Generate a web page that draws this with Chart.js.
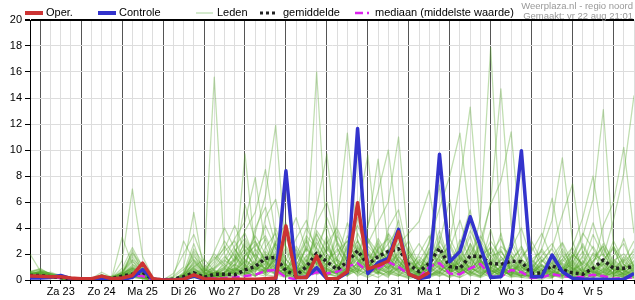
<!DOCTYPE html>
<html>
<head>
<meta charset="utf-8">
<script src="https://cdn.jsdelivr.net/npm/chart.js@4"></script>
<style>
  body { margin: 0; background: #fff; font-family: "Liberation Sans", Arial, sans-serif; }
  #wrap { position: relative; width: 635px; height: 300px; overflow: hidden; }
  .lg { position: absolute; top: 6px; font-size: 11px; line-height: 13px; color: #000; white-space: nowrap; }
  .lg svg { position: absolute; top: 4px; }
  .src { position: absolute; right: 2px; font-size: 9.5px; line-height: 10px; color: #999; white-space: nowrap; }
</style>
</head>
<body>
<div id="wrap">
  <canvas id="c" width="635" height="300"></canvas>
  <div class="lg" style="left:25px"><svg width="18" height="6"><line x1="0" y1="3" x2="18" y2="3" stroke="#cc3333" stroke-width="4"/></svg><span style="margin-left:21px">Oper.</span></div>
  <div class="lg" style="left:98px"><svg width="18" height="6"><line x1="0" y1="3" x2="18" y2="3" stroke="#3333cc" stroke-width="4"/></svg><span style="margin-left:21px">Controle</span></div>
  <div class="lg" style="left:196px"><svg width="17" height="6"><line x1="0" y1="3" x2="17" y2="3" stroke="#a8d49a" stroke-width="1"/></svg><span style="margin-left:21px">Leden</span></div>
  <div class="lg" style="left:260px"><svg width="18" height="6"><line x1="0" y1="3" x2="18" y2="3" stroke="#222" stroke-width="3" stroke-dasharray="3 3"/></svg><span style="margin-left:23px">gemiddelde</span></div>
  <div class="lg" style="left:355px"><svg width="18" height="6"><line x1="0" y1="3" x2="18" y2="3" stroke="#dd22ee" stroke-width="2.5" stroke-dasharray="8 4 2 4"/></svg><span style="margin-left:20px">mediaan (middelste waarde)</span></div>
  <div class="src" style="top:1px">Weerplaza.nl - regio noord</div>
  <div class="src" style="top:11px">Gemaakt: vr 22 aug 21:01</div>
</div>
<script>
// 6-uurs stappen vanaf vr 22 aug 18:00, dagnamen staan op 12:00
const dagen = ['Za 23', 'Zo 24', 'Ma 25', 'Di 26', 'Wo 27', 'Do 28', 'Vr 29', 'Za 30', 'Zo 31', 'Ma 1', 'Di 2', 'Wo 3', 'Do 4', 'Vr 5']
const stappen = Array.from({ length: 60 }, (_, i) => i)

const oper = [0.3, 0.28, 0.25, 0.25, 0.15, 0.1, 0.1, 0.3, 0.1, 0.15,
  0.35, 1.3, 0.1, 0, 0, 0.05, 0.4, 0.1, 0.05, 0.05,
  0.05, 0.05, 0.05, 0.1, 0.15, 4.15, 0.2, 0.2, 1.85, 0.1,
  0.1, 0.65, 5.95, 0.85, 1.1, 1.46, 3.7, 0.45, 0.13, 0.6]

const controle = [0.15, 0.15, 0.2, 0.35, 0.1, 0.05, 0.05, 0.15, 0.05, 0.05,
  0.2, 0.8, 0.05, 0, 0, 0.05, 0.3, 0.05, 0.02, 0.02,
  0.02, 0.02, 0.02, 0.02, 0.05, 8.4, 0.2, 0.2, 0.95, 0.1,
  0.1, 0.55, 11.65, 0.5, 1.33, 1.67, 3.9, 0.45, 0.1, 0.25,
  9.67, 1.4, 2.2, 4.87, 2.56, 0.2, 0.25, 2.56, 9.95, 0.25,
  0.25, 1.92, 0.64, 0.13, 0.05, 0.05, 0.05, 0.02, 0.05, 0.5]

const gemiddelde = [0.35, 0.35, 0.25, 0.2, 0.08, 0.05, 0.05, 0.2, 0.1, 0.3,
  0.45, 0.6, 0.05, 0.02, 0.05, 0.25, 0.56, 0.2, 0.45, 0.45,
  0.4, 0.77, 1.03, 1.67, 1.75, 0.7, 0.35, 1.03, 2.05, 1.4,
  0.8, 1.4, 2.25, 1.2, 1.8, 2.2, 2.4, 1.2, 0.64, 1.28,
  2.44, 1.03, 0.9, 1.85, 1.8, 1.28, 1.2, 1.45, 1.4, 0.5,
  0.55, 1.1, 0.77, 0.55, 0.45, 0.9, 1.54, 0.9, 0.9, 1.05]

const mediaan = [0.3, 0.3, 0.2, 0.15, 0.05, 0, 0, 0.15, 0.05, 0.1,
  0.3, 0.3, 0, 0, 0, 0.1, 0.3, 0.1, 0.13, 0.15,
  0.2, 0.3, 0.4, 0.7, 0.77, 0.2, 0.05, 0.3, 0.6, 0.5,
  0.64, 1.03, 1.3, 0.64, 0.9, 1.4, 1.0, 0.45, 0.15, 1.03,
  1.3, 0.5, 0.45, 0.9, 1.23, 0.3, 0.25, 0.77, 0.6, 0.15,
  0.2, 0.45, 0.3, 0.2, 0.25, 0.4, 0.3, 0.1, 0.15, 0.2]

const leden = [
  [0.6,0.9,0.4,0.3,0.2,0.1,0,0.3,0.1,0.4, 1.2,0.8,0,0,0,0.2,0.8,0.3,0.5,1.2, 2.0,0.8,1.5,3.2,1.0,0.3,0.1,0.8,2.6,4.2, 1.4,0.6,3.1,1.2,0.5,2.2,4.6,1.0,0.2,0.9, 3.4,1.1,0.5,2.1,1.6,0.2,0.6,1.9,0.8,0.2, 0,0.6,1.3,0.9,0.3,0,1.6,2.4,0.7,0.5],
  [0.3,0.5,0.2,0.1,0,0,0.1,0.6,0.2,1.5, 7.0,1.8,0.2,0,0.3,1.0,5.2,0.6,0.2,0.4, 0.9,9.7,2.1,0.6,1.8,0.4,0.2,1.5,0.6,1.0, 3.8,1.2,0.3,0.8,2.4,1.0,0.4,0.1,0.3,2.5, 1.0,0.4,1.8,0.6,0.2,1.2,3.6,0.5,0.2,0.1, 0.3,1.4,0.6,0.2,0,0.4,0.2,1.0,3.2,0.8],
  [0.4,0.6,0.3,0.2,0.1,0,0,0.2,0,0.3, 2.3,0.6,0,0,0.5,2.0,3.5,1.4,15.6,2.0, 0.5,1.2,0.3,0.8,2.5,0.6,0.1,0.4,1.8,0.7, 0.5,2.8,1.6,0.4,1.0,3.5,1.2,0.3,0.1,0.6, 1.8,2.6,0.9,0.4,1.1,3.9,1.0,0.3,0.6,0.1, 0.2,0.1,2.2,1.0,0.4,0.8,0.3,0.1,0.5,1.2],
  [2.0,0.7,0.4,0.2,0,0,0.1,0.4,0.1,0.2, 0.6,0.3,0,0,0,0.4,0.9,0.2,0.3,0.6, 1.5,2.4,0.8,1.2,4.0,1.6,0.5,2.8,16.0,3.0, 0.8,0.3,1.4,2.0,0.6,0.2,1.8,0.9,0.4,1.3, 0.6,0.2,2.8,5.4,1.2,0.4,0.8,0.3,1.5,0.6, 1.1,0.4,0.1,0.6,1.8,0.5,0.2,0.9,0.4,0.3],
  [0.3,0.4,0.6,0.3,0.1,0,0,0.1,0.2,0.5, 0.9,0.4,0,0,0,0.2,0.4,0.1,0.4,0.9, 0.4,1.0,3.6,6.5,11.9,2.2,0.6,0.8,1.6,0.5, 0.2,1.0,0.6,3.2,1.5,0.8,0.4,2.2,0.6,0.3, 0.8,1.6,0.4,1.2,4.8,17.9,3.2,0.6,0.3,0.9, 0.4,0.2,0.8,0.3,0.1,1.4,2.6,0.7,0.2,0.1],
  [0.5,0.3,0.2,0.4,0.2,0,0,0.3,0.2,3.3, 1.2,0.6,0.1,0,0,0.6,2.8,0.5,0.2,0.3, 0.6,0.4,1.3,0.9,0.5,2.6,1.2,0.4,0.9,2.2, 4.2,11.3,3.0,1.1,0.4,0.9,2.0,0.6,0.2,0.7, 1.5,0.5,0.2,0.9,0.6,1.4,0.5,2.8,1.0,0.4, 0.8,0.3,0.5,1.6,3.4,6.2,13.1,2.5,0.6,0.4],
  [0.2,0.3,0.1,0.1,0,0,0,0.1,0,0.2, 0.5,0.3,0,0,0,0.1,0.3,0.8,0.4,0.2, 0.3,0.9,2.0,1.1,0.4,0.6,2.4,1.0,0.4,0.8, 1.6,0.7,2.4,0.5,1.9,0.6,0.3,1.2,0.8,2.0, 0.9,3.0,7.5,13.3,4.0,1.2,0.4,0.9,0.2,0.5, 1.6,0.6,0.2,0.4,0.8,0.3,1.2,0.5,0.9,2.0],
  [0.4,0.5,0.3,0.2,0.1,0.1,0,0.2,0.1,0.6, 1.5,0.5,0,0,0.2,0.8,1.6,0.9,0.3,0.6, 1.2,3.0,1.6,0.5,0.9,0.3,0.8,1.9,0.7,0.3, 0.9,2.1,4.8,1.5,0.6,1.3,0.5,0.2,0.6,1.8, 2.6,0.8,0.3,1.5,2.4,6.0,14.7,4.2,1.0,0.3, 0.2,0.5,1.0,0.4,0.2,0.6,0.3,1.5,0.8,0.2],
  [0.3,0.6,0.5,0.3,0.1,0,0,0.2,0.1,0.3, 0.8,0.4,0,0,0,0.3,0.6,0.2,0.6,0.3, 0.8,0.5,0.9,2.2,1.4,0.6,0.3,0.7,3.2,1.5, 0.6,1.4,2.0,4.2,6.8,10.0,3.6,1.0,0.4,0.5, 1.2,0.6,1.0,0.3,0.8,0.5,1.8,0.9,0.3,0.6, 2.4,4.6,9.4,3.0,0.8,0.3,0.6,0.2,1.0,0.5],
  [0.6,0.8,0.5,0.2,0.1,0,0,0.4,0.1,0.2, 0.4,0.2,0,0,0,0.2,0.5,0.1,0.2,0.5, 1.8,0.6,0.4,1.0,2.8,0.9,0.4,0.2,1.2,0.5, 0.3,0.8,1.2,0.6,3.0,1.2,0.8,2.6,0.9,0.4, 0.6,1.5,0.7,2.4,0.9,0.3,1.1,0.5,2.2,0.8, 0.3,0.9,0.4,2.0,1.2,3.5,1.8,4.6,8.2,14.2],
  [0.2,0.4,0.3,0.1,0,0,0.1,0.2,0,0.4, 1.0,0.6,0.1,0,0,0.5,2.0,0.4,0.9,1.6, 3.2,4.5,7.9,2.6,0.8,0.3,1.0,0.5,2.0,0.9, 0.4,0.6,1.0,2.8,4.4,6.0,11.0,2.4,0.6,0.3, 0.5,0.2,0.6,1.1,0.4,0.8,0.3,1.2,0.6,0.2, 0.5,0.2,0.9,0.6,1.5,0.7,0.3,0.6,1.8,0.9],
  [0.5,0.4,0.2,0.3,0.1,0,0,0.1,0.3,0.5, 2.0,0.9,0,0,0.1,0.4,1.0,0.3,0.2,0.4, 0.6,1.6,0.9,0.4,1.5,0.7,0.2,1.1,0.5,1.8, 0.7,2.4,5.2,9.6,2.0,0.8,1.4,0.5,0.3,1.0, 0.4,0.9,2.0,0.8,3.0,5.8,7.6,11.4,2.6,0.5, 0.2,0.8,0.3,1.0,0.4,0.2,0.9,0.4,0.2,0.6],
  [0.3,0.2,0.1,0.2,0,0,0,0.1,0,0.1, 0.3,0.1,0,0,0,0.1,0.2,0.3,1.2,2.6, 1.4,3.8,5.2,8.5,3.4,0.9,0.5,1.6,0.8,0.4, 1.2,0.5,1.8,4.0,9.3,2.6,0.9,0.4,1.6,0.8, 0.3,1.0,0.5,1.8,0.6,0.2,0.7,0.4,1.6,0.9, 0.4,1.2,2.8,0.6,0.3,1.0,4.2,6.0,10.2,3.6],
  [0.4,0.6,0.3,0.2,0.1,0,0,0.3,0.1,0.3, 0.6,0.3,0,0,0,0.3,1.4,0.6,0.4,0.2, 0.5,1.1,0.6,1.9,0.8,3.0,4.8,2.2,5.6,9.7, 2.5,0.9,0.4,1.5,0.7,2.0,0.6,0.3,0.5,3.0, 5.5,8.0,11.3,4.4,1.3,0.6,1.0,0.3,0.5,1.2, 0.6,0.3,0.8,1.9,0.5,0.2,0.6,1.3,0.4,0.8],
  [0.6,0.5,0.4,0.2,0,0,0,0.2,0.1,0.2, 0.5,0.2,0,0,0,0.2,0.7,0.2,0.1,0.4, 0.8,2.0,1.2,0.6,2.2,1.0,0.5,0.9,1.4,0.6, 1.0,0.4,2.6,1.0,0.5,1.6,2.8,3.6,4.5,6.9, 2.2,0.8,0.4,0.9,1.6,0.5,0.2,0.8,0.4,0.3, 1.4,2.5,5.0,7.4,2.0,0.6,0.3,0.9,0.5,0.2],
  [0.3,0.4,0.2,0.1,0,0,0,0.2,0,0.2, 0.4,0.2,0,0,0,0.2,0.3,0.4,0.8,0.3, 0.6,0.3,1.0,0.7,1.6,0.5,0.9,3.2,1.2,0.5, 0.8,1.8,0.6,0.3,0.9,0.5,1.2,0.6,1.4,2.8, 7.3,2.0,0.6,1.4,0.5,1.0,2.4,0.6,0.3,0.8, 3.2,6.3,2.0,0.5,0.2,0.7,0.4,0.2,0.6,1.1],
  [0.5,0.3,0.2,0.3,0.1,0,0,0.3,0.2,0.4, 0.7,0.3,0,0,0,0.1,0.4,0.2,0.3,0.6, 1.0,0.4,0.8,1.3,0.6,1.2,0.3,0.6,2.0,1.1, 0.5,0.9,1.6,0.7,1.2,0.4,1.8,0.8,0.3,1.1, 2.9,6.2,1.5,0.6,2.0,0.8,0.3,1.4,0.6,0.2, 0.4,1.1,0.6,2.6,4.8,8.0,3.0,1.2,0.4,0.7],
  [0.2,0.3,0.2,0.1,0,0,0,0.1,0,0.1, 0.2,0.1,0,0,0,0,0.2,0.1,0.2,0.3, 0.4,0.8,0.5,0.3,1.0,0.4,0.2,0.5,1.0,0.3, 0.6,0.3,0.9,0.5,0.2,0.7,0.4,0.2,0.6,0.3, 0.9,0.4,0.2,0.6,0.3,0.9,0.5,0.2,0.4,0.1, 0.3,0.2,0.5,0.3,0.1,0.4,0.2,0.6,0.3,0.2],
  [0.4,0.7,0.5,0.3,0.1,0,0.1,0.4,0.2,0.4, 0.9,0.5,0,0,0,0.3,1.1,0.5,0.3,0.8, 2.4,1.0,0.4,0.6,1.2,0.5,1.8,4.0,2.5,1.3, 2.8,1.5,0.8,0.4,1.3,0.9,2.2,1.1,0.5,0.8, 1.6,0.7,1.3,0.5,1.0,2.2,0.8,0.4,1.2,0.6, 0.9,0.4,1.6,0.8,0.3,1.1,0.6,0.3,1.4,2.2],
  [0.3,0.4,0.3,0.2,0,0,0,0.2,0.1,0.3, 0.5,0.3,0,0,0,0.2,0.4,0.2,0.6,0.4, 0.7,1.4,2.8,1.5,0.6,0.8,0.4,1.2,3.5,2.0, 1.1,3.4,2.2,0.8,2.6,1.4,0.6,1.5,0.9,0.4, 0.7,1.2,0.5,2.8,1.0,0.4,1.6,0.7,0.3,0.9, 0.5,0.8,0.3,1.2,0.6,2.0,0.9,0.5,0.2,0.6],
  [0.5,0.6,0.4,0.2,0.1,0,0,0.2,0.1,0.6, 1.8,0.7,0,0,0.2,3.0,1.5,0.8,1.6,2.4, 4.2,2.2,1.0,0.5,2.0,0.6,0.8,0.4,1.6,0.8, 0.5,1.2,3.6,2.0,1.0,2.4,1.5,0.6,0.2,1.5, 3.8,1.4,0.6,1.0,0.4,1.5,0.6,1.8,0.5,0.2, 0.6,1.5,0.8,0.4,0.9,0.3,1.6,0.8,0.3,0.5],
  [0.3,0.5,0.2,0.1,0,0,0,0.2,0,0.2, 0.6,0.4,0,0,0,0.1,0.3,0.6,0.2,0.4, 0.6,0.2,0.9,0.4,0.3,1.0,0.6,0.3,0.8,2.6, 1.0,0.4,0.7,1.6,0.6,0.3,0.9,2.0,0.7,0.2, 0.5,1.0,2.6,0.7,0.3,1.0,0.4,0.6,1.4,0.5, 1.2,0.4,0.2,0.7,0.3,0.8,1.2,0.4,0.2,0.4],
  [0.7,0.8,0.5,0.4,0.2,0.1,0,0.3,0.2,0.9, 2.5,1.0,0.1,0,0,0.4,2.4,1.2,0.5,1.0, 1.6,5.8,3.0,1.4,0.8,0.5,1.4,0.7,4.4,6.0, 3.0,1.6,0.6,2.2,1.0,4.0,5.4,1.8,0.5,1.2, 2.0,0.7,1.4,3.4,0.9,2.6,1.2,0.4,0.9,1.6, 0.8,0.3,1.0,0.5,1.4,0.6,2.4,1.0,0.4,1.0],
  [0.2,0.3,0.2,0.1,0,0,0,0.1,0,0.1, 0.3,0.1,0,0,0,0.1,0.2,0.1,0.3,0.5, 0.9,0.6,0.3,0.8,0.4,0.2,0.6,0.3,1.0,0.5, 0.3,0.8,0.5,0.2,0.6,0.4,0.9,0.4,0.2,0.5, 0.3,0.6,0.9,0.4,0.2,0.5,0.8,0.3,0.2,0.4, 0.2,0.6,0.4,0.2,0.5,0.3,0.7,0.3,0.5,0.2],
  [0.4,0.5,0.3,0.2,0,0,0.1,0.3,0.1,0.3, 0.8,0.4,0,0,0,0.2,0.9,0.4,0.8,1.5, 1.0,2.6,1.8,4.2,2.4,1.0,0.6,2.6,1.4,3.4, 1.6,0.8,2.0,1.2,3.2,1.8,0.8,0.5,1.0,0.6, 1.4,0.5,1.9,0.8,2.8,1.4,0.6,1.0,0.4,0.7, 1.2,0.5,0.3,1.0,2.2,0.9,0.5,1.4,0.6,1.8],
  [0.4,0.5,0.3,0.2,0.1,0,0,0.2,0.1,0.3, 0.6,0.4,0,0,0,0.3,0.8,0.5,1.0,2.2, 3.0,1.4,0.8,2.5,3.6,1.2,0.5,1.8,2.9,1.6, 2.2,3.0,1.4,0.7,2.4,3.2,1.5,0.6,1.2,2.1, 1.5,2.8,1.2,0.6,1.8,2.5,1.0,0.5,1.8,2.6, 1.0,0.6,1.4,2.2,0.8,1.5,2.0,0.9,1.6,0.7],
  [0.2,0.4,0.3,0.1,0,0,0,0.1,0,0.2, 0.4,0.2,0,0,0,0.1,0.5,0.9,2.0,1.2, 0.6,1.8,3.4,2.0,1.0,3.8,2.2,0.8,1.5,3.1, 0.9,1.8,2.7,1.3,0.6,1.9,3.4,1.2,0.4,1.6, 2.3,1.0,3.1,1.7,0.8,1.2,2.6,1.9,0.7,1.3, 2.4,1.2,0.5,1.4,2.6,1.1,0.6,1.9,2.8,1.0],
  [0.5,0.6,0.4,0.3,0.1,0,0,0.3,0.1,0.5, 1.4,0.8,0.1,0,0,0.4,1.8,1.0,0.4,1.4, 2.6,3.6,1.6,0.9,2.8,1.5,3.2,4.6,2.0,1.1, 3.4,2.0,1.0,2.6,1.7,0.9,2.8,1.4,0.8,2.2, 1.2,0.6,1.6,3.8,2.2,1.0,0.5,1.4,2.6,1.1, 0.5,1.8,2.9,1.3,0.6,2.1,1.4,0.5,1.0,2.4],
  [0.3,0.3,0.2,0.2,0,0,0,0.2,0,0.2, 0.5,0.3,0,0,0,0.2,0.6,0.3,0.7,0.5, 1.2,0.7,2.4,1.4,0.5,0.9,1.6,3.0,1.2,2.4, 1.4,0.6,1.3,3.2,2.1,1.0,1.6,0.7,1.4,0.9, 0.5,1.9,1.0,0.4,1.4,3.0,1.8,0.8,1.1,0.4, 0.8,2.0,1.1,0.5,1.0,0.6,1.5,2.6,1.2,0.6],
  [0.6,0.7,0.4,0.2,0.1,0,0,0.3,0.2,0.7, 2.1,1.1,0.1,0,0,0.5,1.2,0.6,1.4,3.0, 1.8,1.0,4.0,5.6,2.6,1.2,0.6,1.3,3.8,2.6, 1.5,4.4,2.2,1.0,1.8,2.8,4.0,2.0,0.8,1.4, 3.0,1.6,0.8,2.0,3.4,1.8,0.9,2.4,4.0,1.5, 0.7,1.3,0.6,1.8,3.6,2.4,1.0,0.6,1.5,3.0],
  [0.3,0.4,0.2,0.1,0,0,0,0.1,0,0.1, 0.3,0.2,0,0,0,0.1,0.4,0.2,0.3,0.9, 0.5,1.5,1.0,0.6,1.8,0.8,2.0,1.1,0.6,1.3, 2.4,1.1,0.6,1.2,0.8,1.6,1.0,2.2,1.2,0.6, 1.1,0.8,1.7,1.0,0.5,0.9,1.5,2.2,1.0,0.6, 1.5,0.8,1.9,0.9,0.4,1.0,0.7,1.6,0.9,1.4],
  [0.4,0.6,0.4,0.2,0.1,0,0,0.2,0.1,0.4, 0.9,0.6,0,0,0,0.2,1.0,1.6,0.7,0.4, 1.6,2.8,1.2,4.8,6.2,2.4,1.0,0.5,2.2,1.4, 0.7,2.6,4.2,2.4,1.1,0.6,2.4,1.6,2.8,1.5, 0.8,2.4,4.6,2.0,0.9,1.6,1.0,3.0,1.6,0.8, 1.9,2.8,1.2,0.7,1.9,4.4,2.0,0.8,0.5,1.3],
  [0.2,0.3,0.3,0.2,0,0,0,0.2,0,0.3, 0.7,0.3,0,0,0,0.3,0.5,0.2,0.4,0.8, 0.4,0.9,0.6,1.5,0.9,0.4,1.2,2.4,1.6,0.7, 1.2,0.5,0.9,2.0,1.3,0.6,1.0,0.6,0.3,0.9, 1.8,1.2,0.5,0.9,1.5,0.7,0.4,1.1,0.6,1.3, 0.6,0.3,0.9,1.5,0.7,0.5,1.3,0.8,0.3,0.9],
  [0.5,0.4,0.3,0.3,0.1,0,0,0.4,0.2,0.5, 1.0,0.5,0,0,0,0.2,0.7,0.3,2.2,4.0, 2.4,1.2,0.7,1.6,2.9,4.4,1.8,0.9,1.7,4.8, 2.9,1.3,2.5,1.4,0.8,1.9,1.2,0.6,2.0,3.4, 1.6,0.8,1.4,2.6,1.2,2.0,3.2,1.3,0.8,2.2, 3.6,1.6,0.7,1.2,2.8,1.2,0.8,2.6,1.2,0.6],
  [0.3,0.5,0.2,0.1,0,0,0,0.1,0,0.2, 0.4,0.2,0,0,0,0.1,0.3,0.2,0.5,0.3, 0.8,0.5,1.4,0.8,1.6,0.7,0.4,0.9,1.9,0.9, 0.5,1.5,0.8,0.4,1.0,2.2,1.4,0.7,0.4,1.0, 0.6,1.3,0.8,1.6,0.7,0.4,1.0,0.6,1.3,0.5, 0.3,1.0,0.6,1.4,0.6,0.9,0.4,1.1,0.7,0.3],
  [0.4,0.7,0.5,0.2,0.1,0,0,0.3,0.1,0.3, 0.8,0.5,0,0,0,0.3,1.3,0.7,0.9,1.8, 1.1,2.2,3.0,1.4,2.0,1.1,2.6,1.4,3.6,2.0, 1.0,1.9,3.0,1.5,2.8,1.3,2.0,3.0,1.2,0.7, 1.9,3.2,1.6,0.9,2.3,1.2,0.7,1.6,2.4,1.0, 1.8,0.8,1.6,2.5,1.0,1.7,2.6,1.1,0.7,1.5],
  [0.3,0.4,0.3,0.2,0,0,0,0.2,0.1,0.4, 1.1,0.6,0,0,0,0.2,0.6,0.4,0.3,0.6, 0.9,0.4,1.1,2.0,1.3,0.6,0.9,0.5,1.3,0.8, 0.4,1.0,1.8,0.8,0.5,1.1,0.7,0.3,0.8,1.5, 0.9,0.5,1.1,0.6,1.4,0.8,0.3,0.7,1.0,0.5, 1.1,0.6,0.3,0.8,1.2,0.5,0.8,0.4,1.2,0.7],
  [0.6,0.5,0.4,0.2,0.1,0,0,0.3,0.2,0.6, 1.6,0.9,0.1,0,0,0.4,2.2,0.8,0.5,1.0, 2.2,3.2,1.8,0.8,3.0,1.6,0.8,2.4,1.2,2.8, 4.0,2.2,1.2,3.0,1.6,3.6,2.4,1.0,1.8,1.1, 2.6,1.4,2.2,1.2,3.0,1.8,2.2,1.0,1.6,3.0, 1.4,2.4,1.0,2.0,1.2,2.6,1.2,3.0,1.4,0.8],
  [0.2,0.3,0.2,0.1,0,0,0,0.1,0,0.1, 0.2,0.1,0,0,0,0,0.2,0.3,0.6,0.4, 0.3,0.6,0.3,0.9,0.5,0.3,0.7,1.2,0.6,0.4, 0.7,0.4,1.1,0.6,0.9,0.5,0.3,0.9,0.5,0.3, 0.6,0.3,0.8,0.5,0.3,0.6,0.9,0.4,0.7,0.3, 0.4,0.7,0.4,0.3,0.6,0.4,0.3,0.5,0.8,0.4],
  [0.5,0.6,0.3,0.2,0.1,0,0,0.2,0.1,0.4, 0.9,0.5,0,0,0,0.3,1.5,0.6,1.8,1.0, 0.7,1.9,2.6,3.4,1.6,0.8,1.5,3.4,2.4,1.0, 1.8,3.0,1.6,0.9,2.2,1.2,3.2,1.5,0.7,2.4, 1.3,2.0,1.0,2.8,1.5,0.8,2.2,1.2,0.6,1.6, 2.2,1.0,2.4,1.1,0.5,1.4,2.8,1.5,2.0,1.1]
]

const datasets = [
  { label: 'Oper.', data: oper, borderColor: '#cc3333', borderWidth: 3.5 },
  { label: 'Controle', data: controle, borderColor: '#3333cc', borderWidth: 3.5 },
  { label: 'gemiddelde', data: gemiddelde, borderColor: '#222', borderWidth: 3.5, borderDash: [3, 3] },
  { label: 'mediaan (middelste waarde)', data: mediaan, borderColor: '#dd22ee', borderWidth: 2.5, borderDash: [8, 4] },
  ...leden.map((d, i) => ({ label: 'Leden ' + (i + 1), data: d, borderColor: 'rgba(85,165,40,0.37)', borderWidth: 1.25 })),
]

new Chart(document.getElementById('c'), {
  type: 'line',
  data: { labels: stappen, datasets },
  options: {
    responsive: false,
    animation: false,
    events: [],
    layout: { padding: { top: 20, right: 0, left: 0, bottom: 0 } },
    elements: { point: { radius: 0 }, line: { tension: 0, fill: false, borderCapStyle: 'butt', borderJoinStyle: 'round' } },
    plugins: { legend: { display: false }, tooltip: { enabled: false } },
    scales: {
      x: {
        type: 'linear', min: 0, max: 59,
        afterFit: s => { s.height = 20 },
        border: { color: '#000', width: 1 },
        grid: {
          color: c => (c.tick && c.tick.value % 4 === 1) ? '#555' : '#ddd',
          tickColor: '#000', tickLength: 4, lineWidth: 1,
        },
        ticks: {
          stepSize: 1, autoSkip: false, maxRotation: 0, padding: 1,
          color: '#000', font: { family: 'Liberation Sans', size: 11 },
          callback: v => (v % 4 === 3) ? (dagen[(v - 3) / 4] || '') : '',
        },
      },
      y: {
        min: 0, max: 20,
        afterFit: s => { s.width = 30 },
        border: { color: '#000', width: 1 },
        grid: {
          color: c => (c.tick && c.tick.value === 20) ? '#000' : '#ddd',
          lineWidth: c => (c.tick && c.tick.value === 20) ? 2 : 1,
          tickColor: '#000', tickLength: 5,
        },
        ticks: { stepSize: 2, padding: 3, color: '#000', font: { family: 'Liberation Sans', size: 11 } },
      },
    },
  },
})
</script>
</body>
</html>
